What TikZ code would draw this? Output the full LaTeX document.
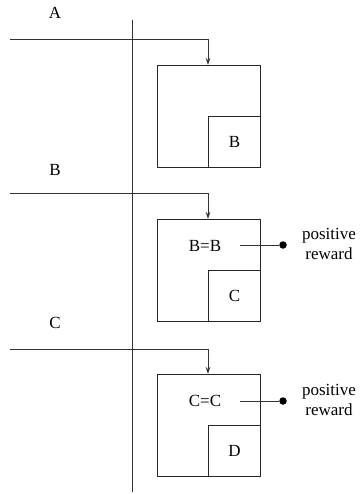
\documentclass[tikz,border=0pt]{standalone}
\usepackage{fontspec}
\setmainfont{Liberation Serif}
\usetikzlibrary{arrows.meta}
\begin{document}
\begin{tikzpicture}[x=1pt,y=-1pt,
  every node/.style={font=\fontsize{17}{20}\selectfont},
  wire/.style={line width=0.9pt,draw=black!80},
  outerbox/.style={draw=black!85,line width=0.9pt,minimum width=103pt,minimum height=102pt,inner sep=0pt,anchor=north west},
  innerbox/.style={draw=black!85,line width=0.9pt,minimum width=52pt,minimum height=51pt,inner sep=0pt,anchor=south east},
  tip/.style={-{Stealth[length=7pt,width=4.5pt]}},
  dot/.style={circle,fill=black,inner sep=0pt,minimum size=7.5pt},
  reward/.style={align=center,inner sep=0pt}]
\useasboundingbox (0,0) rectangle (359,494);

% shared vertical rule
\coordinate (vtop) at (132,20);
\coordinate (vbot) at (132,492);
\draw[wire] (vtop) -- (vbot);

% row A
\node (la) at (55,13) {A};
\coordinate (sa) at (10,39);
\node[outerbox] (boxa) at (157,65) {};
\node[innerbox] (ina) at (boxa.south east) {};
\node at (ina.center) {B};
\coordinate (ta) at (ina.west |- boxa.north);
\draw[wire,tip] (sa) -| (ta);

% row B
\node (lb) at (55,170) {B};
\coordinate (sb) at (10,193);
\node[outerbox] (boxb) at (157,219) {};
\node[innerbox] (inb) at (boxb.south east) {};
\node at (inb.center) {C};
\coordinate (tb) at (inb.west |- boxb.north);
\draw[wire,tip] (sb) -| (tb);
\node (eqb) at (205,246) {B=B};
\coordinate (rb) at (240,245);
\node[dot] (db) at (283,245) {};
\draw[wire] (rb) -- (db);
\node[reward] (pb) at (329,244) {positive\\reward};

% row C
\node (lc) at (55,323) {C};
\coordinate (sc) at (10,349);
\node[outerbox] (boxc) at (157,374) {};
\node[innerbox] (inc) at (boxc.south east) {};
\node at (inc.center) {D};
\coordinate (tc) at (inc.west |- boxc.north);
\draw[wire,tip] (sc) -| (tc);
\node (eqc) at (205,401) {C=C};
\coordinate (rc) at (240,401);
\node[dot] (dc) at (283,401) {};
\draw[wire] (rc) -- (dc);
\node[reward] (pc) at (329,400) {positive\\reward};
\end{tikzpicture}
\end{document}
